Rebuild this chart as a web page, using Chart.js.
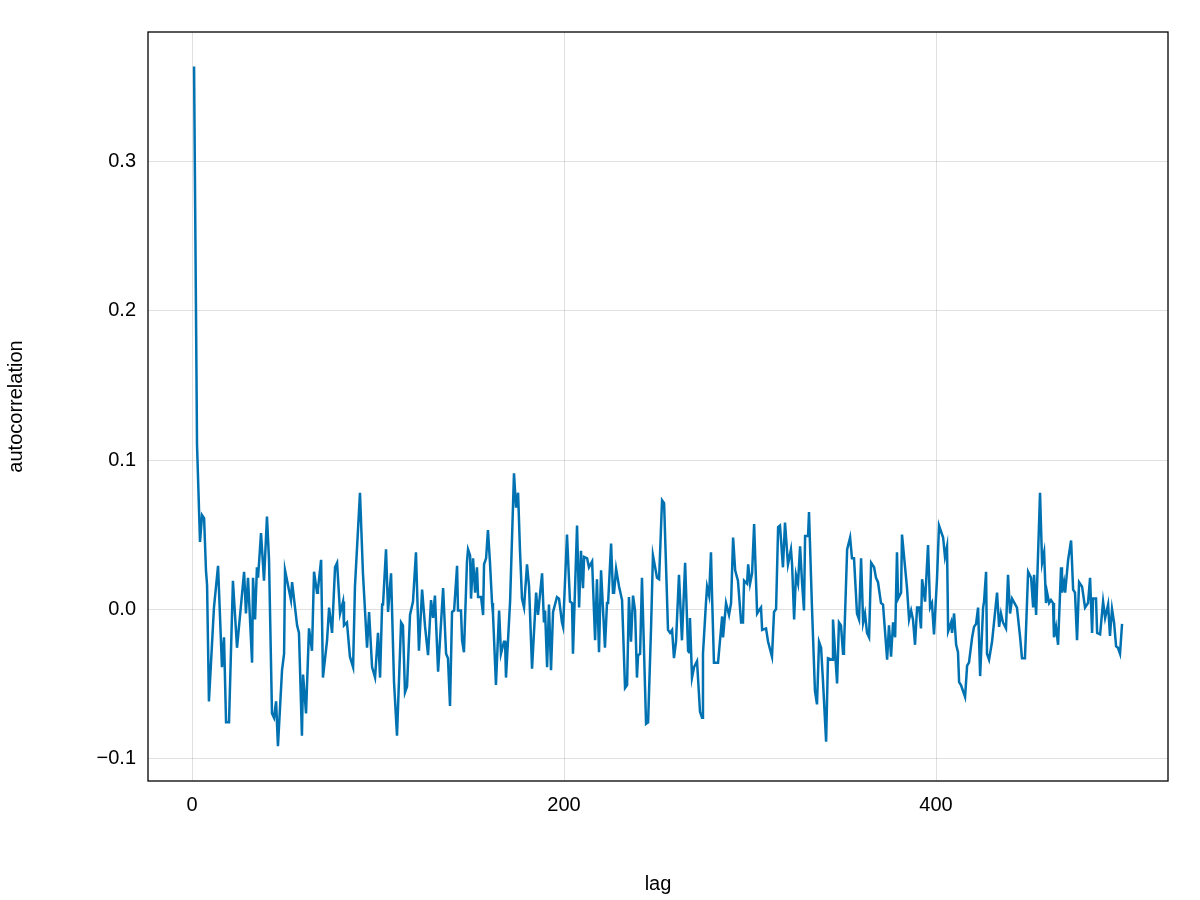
<!DOCTYPE html>
<html>
<head>
<meta charset="utf-8">
<script src="https://cdn.jsdelivr.net/npm/chart.js@4"></script>
<style>
  body { margin: 0; background: #ffffff; }
  #wrap { width: 1200px; height: 900px; }
</style>
</head>
<body>
<div id="wrap"><canvas id="myChart"></canvas></div>
<script>
// lag positions and autocorrelation values
const lags = [
  1.1, 2.7, 4.3, 5.4, 6.5, 7.5, 8.1, 9.1, 11.8, 14.0, 16.1, 17.2, 18.3, 19.9, 22.0, 24.2,
  28.0, 29.0, 30.1, 32.3, 32.8, 33.9, 34.9, 35.5, 37.1, 38.7, 40.3, 41.4, 43.0, 44.1, 45.2,
  46.2, 48.4, 49.5, 50.0, 53.2, 53.8, 56.5, 57.5, 59.1, 59.7, 61.3, 62.9, 64.5, 65.6,
  67.2, 67.7, 69.4, 70.4, 72.6, 73.7, 75.3, 76.9, 78.0, 79.6, 81.2, 81.7, 83.3, 84.9, 86.6,
  87.6, 90.3, 91.9, 94.1, 95.2, 96.8, 98.4, 100.0, 101.1, 102.2, 102.7, 104.3, 105.4, 107.0,
  108.6, 110.2, 112.4, 113.4, 114.5, 115.6, 117.2, 118.8, 120.4, 122.0, 123.7, 125.3, 126.9,
  128.5, 129.6, 130.6, 132.3, 135.0, 136.6, 137.6, 138.7, 139.8, 140.9, 142.5, 143.0, 144.6,
  145.2, 146.2, 147.8, 148.4, 149.5, 150.0, 151.1, 152.2, 153.2, 153.8, 155.4, 156.5, 157.0,
  158.1, 159.1, 160.2, 161.3, 161.8, 163.4, 165.1, 166.1, 167.7, 168.3, 168.8, 171.0, 173.1,
  174.2, 175.3, 176.3, 177.4, 178.5, 180.1, 181.2, 182.8, 185.0, 186.0, 188.2, 189.2, 189.8,
  190.9, 191.9, 193.0, 194.1, 196.2, 197.3, 198.9, 199.5, 201.6, 203.2, 204.3, 204.8, 207.0,
  208.1, 209.1, 210.2, 210.8, 212.4, 213.4, 215.1, 216.7, 217.7, 218.8, 219.9, 222.0, 223.1,
  223.7, 225.3, 226.3, 226.9, 228.0, 229.6, 231.2, 232.8, 233.9, 234.9, 236.0, 237.1, 238.2,
  239.2, 239.8, 240.9, 241.9, 244.1, 245.2, 246.8, 247.8, 250.0, 251.1, 252.7, 253.8, 255.9,
  257.0, 258.1, 259.1, 260.2, 261.8, 263.4, 265.1, 266.7, 267.2, 267.7, 268.8, 269.9, 271.5,
  273.1, 274.2, 274.7, 276.3, 276.9, 278.0, 279.0, 279.6, 280.6, 281.7, 282.8, 285.0, 285.5,
  287.1, 288.7, 289.8, 290.9, 292.0, 293.5, 295.2, 296.2, 296.8, 298.4, 299.0, 300.0, 301.1,
  302.2, 303.8, 304.8, 305.9, 306.5, 308.6, 309.7, 311.8, 312.9, 314.0, 315.1, 316.1, 317.7,
  318.8, 320.4, 322.0, 322.6, 323.7, 324.7, 325.8, 326.9, 328.0, 329.0, 329.6, 331.2, 331.7,
  333.3, 334.9, 336.0, 337.1, 338.2, 339.2, 340.9, 341.9, 344.1, 344.6, 346.8, 347.8, 348.9,
  350.0, 350.5, 352.2, 353.8, 354.8, 355.9, 357.5, 358.6, 359.7, 360.8, 361.8, 362.9, 364.0,
  365.1, 366.7, 367.7, 368.8, 370.4, 371.5, 373.7, 374.7, 375.8, 376.9, 378.0, 379.0, 379.6,
  381.2, 381.7, 384.4, 385.5, 386.6, 387.6, 388.7, 389.8, 390.9, 391.9, 392.5, 394.1, 395.7,
  396.8, 397.8, 398.9, 400.5, 401.6, 403.8, 404.8, 405.9, 406.5, 408.1, 408.6, 409.7, 410.8,
  411.8, 412.4, 413.4, 415.6, 416.7, 417.7, 419.4, 420.4, 421.5, 422.6, 423.7, 425.3, 425.8,
  426.9, 427.4, 428.5, 430.1, 432.8, 433.9, 434.9, 436.0, 437.6, 438.7, 439.8, 440.9, 443.5,
  445.2, 446.2, 447.8, 449.5, 451.1, 452.2, 452.7, 453.8, 455.9, 457.0, 458.1, 459.1, 459.7,
  460.8, 461.8, 462.9, 463.4, 464.5, 465.6, 467.2, 467.7, 468.8, 469.4, 471.0, 472.6, 473.7,
  474.7, 475.8, 476.9, 478.5, 479.0, 480.1, 481.7, 482.8, 483.9, 484.4, 486.0, 486.6, 488.2,
  489.8, 490.9, 492.5, 493.5, 494.6, 495.7, 496.8, 497.8, 498.9, 500.0
];
const acf = [
  0.364, 0.11, 0.045, 0.063, 0.061, 0.026, 0.016, -0.062, 0.001, 0.029, -0.039, -0.019, -0.076, -0.076, 0.019, -0.026,
  0.025, -0.003, 0.021, -0.036, 0.021, -0.007, 0.028, 0.021, 0.051, 0.019, 0.062, 0.033, -0.070, -0.073, -0.062,
  -0.092, -0.041, -0.030, 0.026, 0.006, 0.018, -0.011, -0.016, -0.085, -0.044, -0.070, -0.013, -0.028, 0.025,
  0.011, 0.013, 0.033, -0.046, -0.021, 0.001, -0.016, 0.028, 0.031, -0.003, 0.005, -0.011, -0.009, -0.032, -0.039,
  0.015, 0.078, 0.024, -0.026, -0.002, -0.039, -0.046, -0.016, -0.046, 0.003, 0.003, 0.040, -0.002, 0.024,
  -0.049, -0.085, -0.009, -0.011, -0.056, -0.052, -0.004, 0.005, 0.038, -0.028, 0.013, -0.012, -0.031,
  0.006, -0.006, 0.009, -0.042, 0.014, -0.030, -0.033, -0.065, -0.002, -0.001, 0.029, -0.001, -0.001,
  -0.021, -0.029, 0.031, 0.040, 0.036, 0.007, 0.034, 0.011, 0.028, 0.008, 0.008, -0.004, 0.030,
  0.034, 0.053, 0.031, 0.004, -0.003, -0.051, -0.001, -0.030, -0.022, -0.022, -0.046, 0.005, 0.091,
  0.068, 0.078, 0.040, 0.007, 0.001, 0.030, 0.015, -0.040, 0.011, -0.004, 0.024, -0.009, -0.001,
  -0.039, 0.003, -0.041, -0.002, 0.008, 0.007, -0.009, -0.012, 0.050, 0.005, 0.004, -0.030, 0.056,
  0.001, 0.039, 0.014, 0.035, 0.034, 0.028, 0.032, -0.021, 0.020, -0.029, 0.026, -0.026, 0.004,
  0.004, 0.044, 0.011, 0.011, 0.027, 0.015, 0.006, -0.053, -0.051, 0.008, -0.022, 0.009, -0.001,
  -0.046, -0.031, -0.030, 0.021, -0.077, -0.076, -0.012, 0.036, 0.021, 0.020, 0.073, 0.071, -0.014,
  -0.016, -0.014, -0.033, -0.022, 0.023, -0.021, 0.031, -0.028, -0.029, -0.006, -0.046, -0.039, -0.035,
  -0.069, -0.073, -0.030, 0.004, 0.015, 0.009, 0.038, 0.008, -0.036, -0.036, -0.036, -0.005, -0.019,
  0.004, -0.004, 0.004, 0.048, 0.026, 0.019, -0.009, -0.009, 0.019, 0.017, 0.030, 0.017, 0.024,
  0.057, -0.003, -0.001, 0.001, -0.014, -0.013, -0.022, -0.032, -0.002, 0.000, 0.055, 0.056, 0.028,
  0.058, 0.030, 0.040, 0.030, -0.007, 0.023, 0.017, 0.042, 0.017, -0.001, 0.049, 0.049, 0.065,
  0.001, -0.055, -0.064, -0.022, -0.026, -0.048, -0.089, -0.033, -0.034, -0.007, -0.050, -0.009, -0.011,
  -0.030, -0.026, 0.040, 0.048, 0.034, 0.034, -0.003, -0.007, 0.034, -0.009, -0.003, -0.016, -0.019,
  0.031, 0.028, 0.021, 0.018, 0.004, 0.003, -0.034, -0.011, -0.032, -0.009, -0.019, 0.038, 0.007,
  0.011, 0.050, 0.014, -0.007, -0.001, -0.007, -0.024, 0.001, 0.001, -0.013, 0.020, 0.005, 0.043,
  0.001, 0.004, -0.017, 0.020, 0.056, 0.048, 0.035, 0.042, -0.015, -0.009, -0.016, -0.003, -0.024,
  -0.029, -0.049, -0.051, -0.059, -0.038, -0.036, -0.019, -0.012, -0.010, 0.001, -0.045, 0.001, 0.005,
  0.025, -0.030, -0.034, -0.022, 0.011, -0.012, -0.003, -0.009, -0.013, 0.023, -0.003, 0.007, 0.001,
  -0.019, -0.033, -0.033, 0.025, 0.021, 0.001, 0.023, -0.004, 0.078, 0.031, 0.038, 0.004, 0.011,
  0.004, 0.006, 0.004, -0.019, -0.012, -0.024, 0.028, 0.011, 0.018, 0.011, 0.033, 0.046, 0.013,
  0.011, -0.021, 0.018, 0.015, 0.015, 0.001, 0.004, 0.021, -0.016, 0.007, 0.007, -0.016, -0.017,
  0.005, -0.006, 0.003, -0.018, 0.000, -0.009, -0.025, -0.026, -0.030, -0.010
];
const xTicks = [0, 200, 400];
const yTicks = [-0.1, 0.0, 0.1, 0.2, 0.3];

const points = lags.map((l, i) => ({ x: l, y: acf[i] }));

// black frame around the plot area
const frame = {
  id: 'frame',
  afterDraw(chart) {
    const a = chart.chartArea;
    const c = chart.ctx;
    c.save();
    c.strokeStyle = '#000000';
    c.lineWidth = 1.3;
    c.strokeRect(a.left, a.top, a.right - a.left, a.bottom - a.top);
    c.restore();
  }
};

const fmt = v => (v < 0 ? '\u2212' : '') + Math.abs(v).toFixed(1);

Chart.defaults.font.family = '"Liberation Sans", Arial, sans-serif';
Chart.defaults.color = '#000000';

new Chart(document.getElementById('myChart').getContext('2d'), {
  type: 'line',
  data: {
    datasets: [{
      data: points,
      borderColor: '#0072b2',
      borderWidth: 2.5,
      pointRadius: 0,
      tension: 0,
      fill: false
    }]
  },
  options: {
    responsive: true,
    maintainAspectRatio: false,
    animation: false,
    layout: { padding: { left: 0, top: 32, right: 32, bottom: 0 } },
    plugins: { legend: { display: false }, tooltip: { enabled: false } },
    scales: {
      x: {
        type: 'linear',
        min: -23.66,
        max: 524.7,
        afterBuildTicks: s => { s.ticks = xTicks.map(v => ({ value: v })); },
        afterFit: s => { s.height = 119; },
        grid: { color: 'rgba(0,0,0,0.12)', drawTicks: false },
        border: { display: false },
        ticks: { font: { size: 20 }, padding: 12, maxRotation: 0 },
        title: { display: true, text: 'lag', font: { size: 20 }, padding: { top: 8 } }
      },
      y: {
        min: -0.1154,
        max: 0.3872,
        afterBuildTicks: s => { s.ticks = yTicks.map(v => ({ value: v })); },
        afterFit: s => { s.width = 148; },
        grid: { color: 'rgba(0,0,0,0.12)', drawTicks: false },
        border: { display: false },
        ticks: { font: { size: 20 }, padding: 12, callback: v => fmt(v) },
        title: { display: true, text: 'autocorrelation', font: { size: 20 }, padding: { bottom: 14 } }
      }
    }
  },
  plugins: [frame]
});
</script>
</body>
</html>
